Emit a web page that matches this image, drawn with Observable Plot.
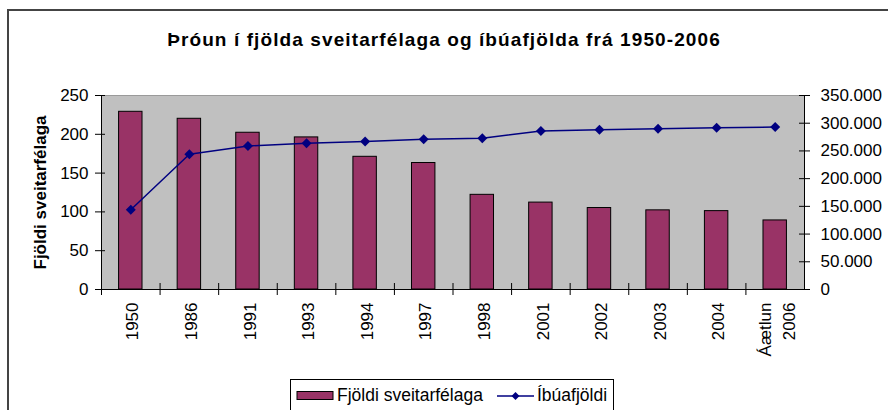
<!DOCTYPE html>
<html><head><meta charset="utf-8">
<script src="https://cdn.jsdelivr.net/npm/d3@7"></script>
<script src="https://cdn.jsdelivr.net/npm/@observablehq/plot@0.6"></script>
<style>
body{margin:0;background:#fff;font-family:"Liberation Sans",Arial,sans-serif;}
#wrap{position:relative;width:888px;height:410px;overflow:hidden;background:#fff;}
#chart{position:absolute;left:0;top:0;}
#frame{position:absolute;left:7px;top:9px;width:900px;height:420px;border-left:2px solid #444;border-top:2px solid #444;}
#title{position:absolute;left:0;width:888px;top:29px;text-align:center;font-weight:bold;font-size:19px;letter-spacing:1.1px;color:#000;}
#legend{position:absolute;left:290px;top:379px;width:322px;height:40px;border:1px solid #000;background:#fff;font-size:17.5px;}
#legend .t{position:absolute;top:5px;line-height:20px;white-space:nowrap;}
#legend svg{position:absolute;}
</style></head>
<body>
<div id="wrap">
  <div id="chart"></div>
  <div id="frame"></div>
  <div id="title">Þróun í fjölda sveitarfélaga og íbúafjölda frá 1950-2006</div>
  <div id="legend">
    <svg style="left:5px;top:11px" width="38" height="10"><rect x="1" y="0.5" width="36" height="8" fill="#993366" stroke="#000" stroke-width="1"/></svg>
    <span class="t" style="left:46px">Fjöldi sveitarfélaga</span>
    <svg style="left:206px;top:10px" width="38" height="12"><line x1="0" y1="6" x2="37" y2="6" stroke="#000080" stroke-width="1.5"/><path d="M18.5 2 L22.5 6 L18.5 10 L14.5 6 Z" fill="#000080"/></svg>
    <span class="t" style="left:246px">Íbúafjöldi</span>
  </div>
</div>
<script>
const categories = ["1950","1986","1991","1993","1994","1997","1998","2001","2002","2003","2004","Áætlun\n2006"];
const municipalities = [229,220,202,196,171,163,122,112,105,102,101,89];
const population = [144000,244000,259000,264000,267000,271000,273000,286000,288000,290000,292000,293000];
const leftTicks = [0,50,100,150,200,250];
const rightTicks = [0,50000,100000,150000,200000,250000,300000,350000];
const rightTickLabels = ["0","50.000","100.000","150.000","200.000","250.000","300.000","350.000"];

const leftMax = 250, rightMax = 350000;
const k = leftMax / rightMax;
const data = categories.map((c,i)=>({cat:c, m:municipalities[i], p:population[i]}));

const W = 888, H = 410, mL = 101, mR = 84, mT = 95, mB = 121;
const fw = W - mL - mR;
const step = fw / categories.length;
const tickUnits = 6 * leftMax / (H - mT - mB);

const chart = Plot.plot({
  width: W, height: H,
  marginLeft: mL, marginRight: mR, marginTop: mT, marginBottom: mB,
  style: {fontFamily: "'Liberation Sans', Arial, sans-serif", fontSize: "17px", color: "#000", background: "transparent"},
  x: {domain: categories, paddingInner: 0.6, paddingOuter: 0.3, round: false},
  y: {domain: [0, leftMax]},
  marks: [
    Plot.frame({fill: "#c0c0c0", stroke: null}),
    Plot.ruleY([leftMax], {stroke: "#9a9a9a", strokeWidth: 1}),
    Plot.barY(data, {x: "cat", y: "m", fill: "#993366", stroke: "#000", strokeWidth: 1}),
    Plot.line(data, {x: "cat", y: d => d.p * k, stroke: "#000080", strokeWidth: 1.5}),
    Plot.dot(data, {x: "cat", y: d => d.p * k, symbol: "diamond2", fill: "#000080", stroke: null, r: 4.5}),
    Plot.ruleY([0], {stroke: "#000", strokeWidth: 1}),
    Plot.ruleX([categories[0]], {x: d => d, dx: -step/2, y1: 0, y2: leftMax, stroke: "#000"}),
    Plot.ruleX([categories[categories.length-1]], {x: d => d, dx: step/2, y1: 0, y2: leftMax, stroke: "#000"}),
    Plot.ruleX(categories, {x: d => d, dx: -step/2, y1: -tickUnits, y2: tickUnits, stroke: "#000"}),
    Plot.tickY(leftTicks, {y: d => d, insetLeft: -6, insetRight: fw - 4, stroke: "#000"}),
    Plot.tickY(rightTicks, {y: d => d * k, insetLeft: fw - 5, insetRight: -6, stroke: "#000"}),
    Plot.axisY({ticks: leftTicks, tickSize: 0, tickPadding: 13, label: null}),
    Plot.axisY({anchor: "right", ticks: rightTicks.map(v => v * k), tickFormat: d => rightTickLabels[Math.round(d / k / 50000)], tickSize: 0, tickPadding: 16, label: null}),
    Plot.axisX({tickRotate: -90, tickSize: 0, tickPadding: 13, label: null, lineHeight: 1.4}),
    Plot.text(["Fjöldi sveitarfélaga"], {frameAnchor: "left", rotate: -90, dx: -61, textAnchor: "middle", lineAnchor: "middle", fontWeight: "bold", fontSize: 17})
  ]
});
document.getElementById("chart").appendChild(chart);
</script>
</body></html>
